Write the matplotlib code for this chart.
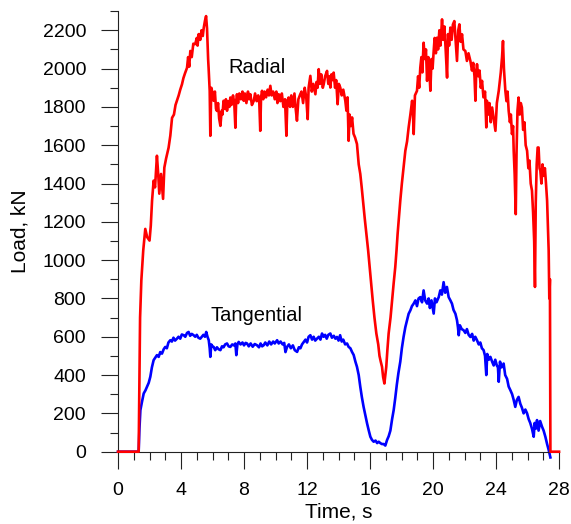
import matplotlib

matplotlib.use("Agg")
import matplotlib.pyplot as plt
from matplotlib.ticker import MultipleLocator

plt.rcParams["font.family"] = ["Liberation Sans", "DejaVu Sans"]

# radial load, kN
radial_t = [
    0, 1.31, 1.40, 1.48, 1.6, 1.73, 1.85, 2.0, 2.08, 2.16, 2.26, 2.35, 2.47, 2.55,
    2.62, 2.73, 2.86, 2.94, 3.05, 3.21, 3.32, 3.43, 3.55, 3.65, 3.74, 3.85, 3.95,
    4.06, 4.15, 4.25, 4.38, 4.45, 4.52, 4.59, 4.68, 4.78, 4.9, 5.0, 5.05, 5.12,
    5.22, 5.3, 5.38, 5.44, 5.52, 5.59, 5.65, 5.72, 5.75, 5.82, 5.86, 5.92, 5.97,
    6.02, 6.07, 6.15, 6.22, 6.28, 6.35, 6.42, 6.5, 6.58, 6.63, 6.7, 6.78, 6.85,
    6.92, 7.0, 7.07, 7.13, 7.2, 7.3, 7.38, 7.45, 7.5, 7.55, 7.62, 7.7, 7.8, 7.9,
    7.98, 8.05, 8.15, 8.25, 8.32, 8.4, 8.5, 8.62, 8.7, 8.8, 8.9, 8.97, 9.03, 9.08,
    9.14, 9.22, 9.3, 9.4, 9.5, 9.58, 9.67, 9.75, 9.85, 9.95, 10.05, 10.12, 10.2,
    10.3, 10.4, 10.5, 10.6, 10.69, 10.75, 10.83, 10.92, 11.0, 11.1, 11.2, 11.28,
    11.36, 11.45, 11.57, 11.65, 11.75, 11.85, 11.95, 12.04, 12.1, 12.21, 12.3,
    12.4, 12.53, 12.6, 12.67, 12.74, 12.82, 12.9, 13.0, 13.06, 13.15, 13.27,
    13.35, 13.42, 13.48, 13.55, 13.62, 13.69, 13.78, 13.85, 13.94, 14.02, 14.11,
    14.2, 14.3, 14.43, 14.5, 14.57, 14.64, 14.7, 14.78, 14.86, 14.95, 15.05,
    15.17, 15.28, 15.38, 15.47, 15.55, 15.66, 15.77, 15.88, 15.98, 16.08, 16.17,
    16.28, 16.4, 16.52, 16.6, 16.68, 16.76, 16.83, 16.91, 16.97, 17.03, 17.1,
    17.18, 17.3, 17.4, 17.5, 17.6, 17.68, 17.75, 17.83, 17.92, 18.02, 18.13,
    18.24, 18.35, 18.45, 18.56, 18.67, 18.72, 18.77, 18.85, 18.98, 19.05, 19.12,
    19.19, 19.26, 19.32, 19.4, 19.48, 19.55, 19.62, 19.7, 19.76, 19.83, 19.9,
    19.97, 20.04, 20.1, 20.18, 20.25, 20.32, 20.4, 20.47, 20.57, 20.64, 20.72,
    20.8, 20.89, 20.95, 21.02, 21.1, 21.18, 21.26, 21.35, 21.42, 21.52, 21.6,
    21.67, 21.75, 21.84, 21.93, 22.05, 22.15, 22.25, 22.37, 22.47, 22.55, 22.63,
    22.69, 22.74, 22.79, 22.87, 22.95, 23.03, 23.11, 23.2, 23.3, 23.38, 23.42,
    23.5, 23.58, 23.66, 23.75, 23.85, 23.96, 24.05, 24.17, 24.3, 24.38, 24.44,
    24.5, 24.59, 24.66, 24.73, 24.8, 24.88, 24.94, 25.01, 25.08, 25.12, 25.18,
    25.25, 25.3, 25.36, 25.43, 25.5, 25.57, 25.64, 25.72, 25.8, 25.88, 25.97,
    26.05, 26.12, 26.2, 26.28, 26.35, 26.42, 26.47, 26.52, 26.58, 26.64, 26.7,
    26.76, 26.81, 26.88, 26.95, 27.02, 27.1, 27.17, 27.24, 27.3, 27.34, 27.38,
    27.42, 27.45, 28.0,
]
radial_kn = [
    0, 0, 700, 894, 1050, 1163, 1120, 1102, 1180, 1310, 1415, 1380, 1545, 1450,
    1347, 1450, 1320, 1483, 1530, 1587, 1650, 1743, 1760, 1810, 1832, 1860, 1890,
    1918, 1950, 1975, 2004, 2060, 2010, 2092, 2060, 2130, 2128, 2160, 2120, 2180,
    2150, 2200, 2170, 2212, 2250, 2274, 2210, 2050, 2004, 1884, 1649, 1900, 1884,
    1840, 1832, 1880, 1790, 1779, 1820, 1740, 1701, 1780, 1760, 1832, 1790, 1840,
    1780, 1830, 1800, 1849, 1810, 1860, 1820, 1691, 1830, 1866, 1820, 1870, 1840,
    1880, 1832, 1870, 1820, 1880, 1840, 1866, 1810, 1832, 1870, 1830, 1860, 1820,
    1675, 1850, 1884, 1840, 1880, 1850, 1890, 1860, 1910, 1860, 1880, 1840, 1880,
    1820, 1866, 1830, 1870, 1800, 1840, 1649, 1830, 1849, 1800, 1860, 1800, 1870,
    1790, 1728, 1840, 1866, 1880, 1820, 1900, 1850, 1736, 1900, 1962, 1880, 1920,
    1866, 1930, 1900, 1997, 1920, 1970, 1900, 1919, 1960, 1988, 1920, 1960, 1901,
    1970, 1940, 1979, 1900, 1940, 1814, 1920, 1901, 1860, 1890, 1832, 1780, 1850,
    1623, 1760, 1700, 1745, 1660, 1640, 1606, 1500, 1450, 1380, 1311, 1220, 1137,
    1050, 963, 870, 790, 700, 617, 560, 500, 470, 443, 390, 356, 400, 443, 530,
    617, 700, 790, 880, 963, 1050, 1137, 1220, 1311, 1400, 1484, 1571, 1620, 1693,
    1760, 1832, 1780, 1658, 1860, 1884, 1960, 1900, 2005, 2060, 1980, 2135, 2050,
    2100, 1936, 2060, 2000, 1884, 2050, 2000, 2092, 2160, 2080, 2161, 2100, 2200,
    2120, 2257, 2150, 2220, 2100, 1953, 2180, 2120, 2214, 2150, 2230, 2248, 2160,
    2040, 2200, 2231, 2140, 2179, 2100, 2092, 2040, 2080, 2040, 1990, 2030, 1960,
    1832, 1980, 2023, 1960, 1990, 1900, 1936, 1850, 1880, 1693, 1832, 1760, 1820,
    1720, 1797, 1740, 1675, 1820, 1884, 1980, 2060, 2144, 2000, 1884, 1830, 1880,
    1780, 1720, 1760, 1658, 1700, 1571, 1450, 1240, 1560, 1780, 1849, 1760, 1820,
    1797, 1680, 1720, 1600, 1571, 1480, 1520, 1400, 1363, 1250, 1100, 860, 1300,
    1500, 1588, 1588, 1480, 1467, 1400, 1500, 1440, 1480, 1400, 1311, 1150, 1050,
    800, 900, 0, 0,
]

# tangential load, kN
tangential_t = [
    0, 1.31, 1.36, 1.42, 1.52, 1.63, 1.74, 1.84, 1.95, 2.05, 2.15, 2.26, 2.36,
    2.47, 2.58, 2.68, 2.79, 2.9, 3.0, 3.1, 3.2, 3.32, 3.42, 3.52, 3.62, 3.74,
    3.84, 3.95, 4.05, 4.17, 4.27, 4.38, 4.48, 4.58, 4.68, 4.8, 4.9, 5.0, 5.1,
    5.22, 5.32, 5.42, 5.52, 5.6, 5.68, 5.76, 5.82, 5.86, 5.92, 6.0, 6.07, 6.17,
    6.28, 6.38, 6.5, 6.6, 6.7, 6.8, 6.92, 7.02, 7.13, 7.25, 7.35, 7.45, 7.51,
    7.58, 7.66, 7.78, 7.9, 8.0, 8.1, 8.19, 8.3, 8.42, 8.55, 8.68, 8.82, 8.95,
    9.05, 9.15, 9.25, 9.35, 9.48, 9.6, 9.72, 9.85, 9.95, 10.1, 10.2, 10.32,
    10.45, 10.55, 10.63, 10.73, 10.85, 10.97, 11.1, 11.22, 11.37, 11.48, 11.58,
    11.68, 11.79, 11.9, 12.0, 12.1, 12.21, 12.32, 12.42, 12.52, 12.63, 12.75,
    12.85, 12.95, 13.05, 13.15, 13.25, 13.35, 13.48, 13.58, 13.7, 13.8, 13.9,
    14.0, 14.1, 14.2, 14.3, 14.42, 14.54, 14.64, 14.75, 14.86, 14.96, 15.07,
    15.17, 15.28, 15.38, 15.48, 15.59, 15.7, 15.81, 15.92, 16.02, 16.12, 16.23,
    16.35, 16.45, 16.55, 16.65, 16.75, 16.86, 16.97, 17.08, 17.18, 17.29, 17.4,
    17.5, 17.6, 17.7, 17.8, 17.92, 18.02, 18.13, 18.24, 18.35, 18.45, 18.56,
    18.66, 18.77, 18.88, 18.98, 19.08, 19.19, 19.3, 19.4, 19.5, 19.62, 19.72,
    19.8, 19.9, 20.04, 20.12, 20.22, 20.36, 20.46, 20.56, 20.67, 20.77, 20.88,
    20.99, 21.1, 21.2, 21.3, 21.42, 21.52, 21.58, 21.63, 21.7, 21.82, 21.94,
    22.05, 22.15, 22.26, 22.37, 22.48, 22.58, 22.68, 22.79, 22.9, 23.0, 23.1,
    23.21, 23.3, 23.38, 23.44, 23.54, 23.64, 23.75, 23.85, 23.95, 24.05, 24.12,
    24.17, 24.25, 24.35, 24.48, 24.58, 24.7, 24.8, 24.91, 25.02, 25.12, 25.22,
    25.32, 25.43, 25.54, 25.64, 25.75, 25.86, 25.97, 26.07, 26.17, 26.28, 26.39,
    26.45, 26.52, 26.6, 26.7, 26.8, 26.92, 27.02, 27.13, 27.24, 27.34, 27.45,
]
tangential_kn = [
    0, 0, 120, 217, 260, 304, 320, 339, 360, 391, 440, 478, 490, 504, 495, 520,
    512, 535, 547, 540, 570, 582, 575, 595, 580, 590, 600, 590, 612, 608, 600,
    620, 625, 605, 615, 608, 600, 610, 595, 590, 600, 610, 600, 625, 600, 582,
    540, 495, 560, 550, 547, 530, 545, 535, 530, 550, 545, 560, 565, 550, 547,
    560, 555, 565, 504, 560, 573, 560, 570, 555, 568, 565, 550, 565, 548, 562,
    556, 545, 565, 550, 556, 570, 555, 575, 560, 575, 565, 582, 565, 575, 560,
    568, 520, 547, 560, 540, 555, 530, 521, 545, 540, 560, 573, 585, 570, 600,
    608, 585, 600, 580, 590, 600, 585, 617, 600, 610, 590, 610, 617, 595, 605,
    590, 599, 580, 608, 575, 585, 560, 565, 547, 540, 520, 505, 470, 443, 400,
    339, 285, 234, 190, 148, 110, 78, 62, 52, 58, 45, 52, 45, 40, 40, 32, 61,
    80, 110, 170, 217, 280, 350, 410, 470, 540, 600, 650, 686, 720, 738, 760,
    773, 790, 760, 800, 807, 780, 842, 790, 773, 800, 750, 790, 721, 800, 780,
    807, 842, 820, 885, 830, 860, 807, 790, 773, 740, 720, 686, 650, 608, 660,
    640, 634, 620, 640, 610, 599, 615, 580, 600, 582, 560, 570, 540, 530, 500,
    400, 510, 480, 495, 470, 450, 480, 450, 440, 365, 470, 440, 460, 400, 380,
    340, 321, 300, 270, 234, 270, 286, 250, 230, 200, 220, 200, 170, 150, 120,
    78, 150, 120, 165, 110, 160, 130, 110, 78, 40, 9, -30,
]

x_ticks = list(range(0, 29, 4))
y_ticks = list(range(0, 2201, 200))

fig = plt.figure(figsize=(5.71, 5.24), dpi=100)
ax = fig.add_axes([0.2067, 0.138, 0.7724, 0.8415])

ax.plot(tangential_t, tangential_kn, color="#0000ff", linewidth=1.9, clip_on=False, zorder=2)
ax.plot(radial_t, radial_kn, color="#ff0000", linewidth=1.9, clip_on=False, zorder=3)

ax.text(8.84, 1979, "Radial", fontsize=14.5, ha="center", va="baseline")
ax.text(8.78, 682, "Tangential", fontsize=14.5, ha="center", va="baseline")

ax.set_xlim(0, 28)
ax.set_ylim(0, 2302)
ax.set_xticks(x_ticks)
ax.set_yticks(y_ticks)
ax.xaxis.set_minor_locator(MultipleLocator(1))
ax.yaxis.set_minor_locator(MultipleLocator(100))
ax.tick_params(which="major", direction="out", length=12, width=0.8,
               color="#222222", labelsize=14, pad=10)
ax.tick_params(axis="y", which="major", pad=11)
ax.tick_params(which="minor", direction="out", length=6, width=0.8, color="#222222")

for side in ("top", "right"):
    ax.spines[side].set_visible(False)
for side in ("left", "bottom"):
    ax.spines[side].set_color("#222222")
    ax.spines[side].set_linewidth(0.8)

ax.set_xlabel("Time, s", fontsize=15, labelpad=2)
ax.set_ylabel("Load, kN", fontsize=15, labelpad=9)

fig.savefig("out.png", dpi=100)
